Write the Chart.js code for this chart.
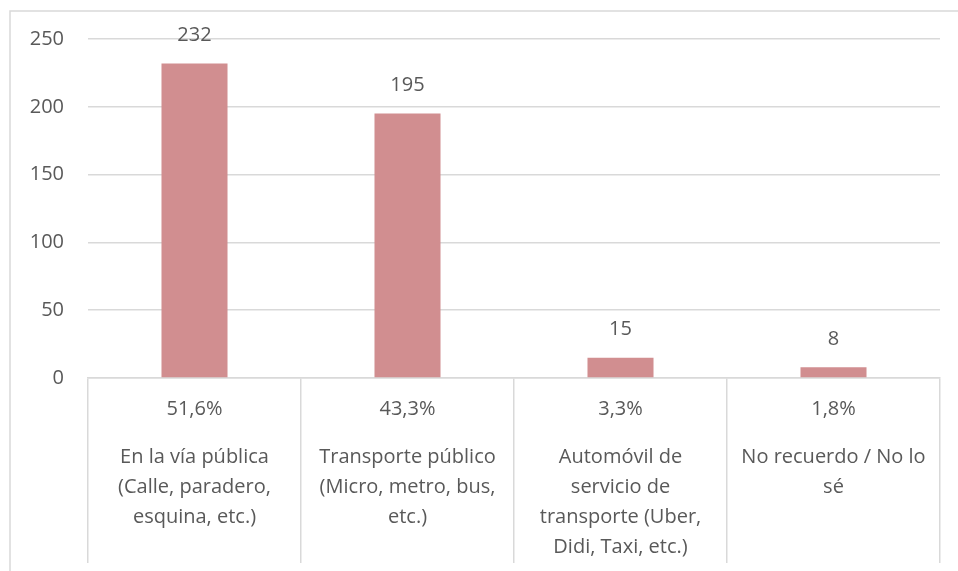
<!DOCTYPE html>
<html lang="es">
<head>
    <meta charset="UTF-8">
    <title>Lugar</title>
    <script src="https://cdn.jsdelivr.net/npm/chart.js"></script>
    <style>
        html, body { margin: 0; padding: 0; background: #fff; }
        #wrap { width: 958px; height: 571px; position: relative; }
    </style>
</head>
<body>
    <div id="wrap"><canvas id="chart"></canvas></div>

    <script>
        // Data
        const categories = [
            ['En la vía pública', '(Calle, paradero,', 'esquina, etc.)'],
            ['Transporte público', '(Micro, metro, bus,', 'etc.)'],
            ['Automóvil de', 'servicio de', 'transporte (Uber,', 'Didi, Taxi, etc.)'],
            ['No recuerdo / No lo', 'sé']
        ];
        const counts = [232, 195, 15, 8];
        const percentLabels = ['51,6%', '43,3%', '3,3%', '1,8%'];
        const yTicks = [0, 50, 100, 150, 200, 250];

        const TEXT = '#595959';
        const LINE = '#d9d9d9';
        const FONT = '"Open Sans", sans-serif';
        const FS = 20;

        // frame (top + left edge) and the labels under the axis
        const decorPlugin = {
            id: 'decor',
            beforeDraw(chart) {
                const ctx = chart.ctx;
                ctx.save();
                ctx.strokeStyle = LINE;
                ctx.lineWidth = 1.5;
                ctx.beginPath();
                ctx.moveTo(10, chart.height);
                ctx.lineTo(10, 11);
                ctx.lineTo(chart.width, 11);
                ctx.stroke();
                ctx.restore();
            },
            afterDraw(chart) {
                const ctx = chart.ctx;
                const x = chart.scales.x;
                const meta = chart.getDatasetMeta(0);
                ctx.save();
                ctx.fillStyle = TEXT;
                ctx.font = FS + 'px ' + FONT;
                ctx.textAlign = 'center';
                ctx.textBaseline = 'middle';
                const base = chart.chartArea.bottom;
                categories.forEach((lines, i) => {
                    const cx = x.getPixelForValue(i);
                    // value above the bar
                    ctx.fillText(String(counts[i]), cx, meta.data[i].y - 28);
                    // percentage and category text in the cell
                    ctx.fillText(percentLabels[i], cx, base + 31);
                    lines.forEach((ln, j) => {
                        ctx.fillText(ln, cx, base + 79 + j * 30);
                    });
                });
                ctx.restore();
            }
        };

        new Chart(document.getElementById('chart'), {
            type: 'bar',
            data: {
                labels: categories.map(c => c.join(' ')),
                datasets: [{
                    data: counts,
                    backgroundColor: '#d18e90',
                    barPercentage: 0.31,
                    categoryPercentage: 1.0
                }]
            },
            options: {
                responsive: true,
                maintainAspectRatio: false,
                animation: false,
                layout: { padding: { top: 39, right: 18, bottom: 8, left: 0 } },
                plugins: {
                    legend: { display: false },
                    tooltip: { enabled: false }
                },
                scales: {
                    x: {
                        grid: {
                            offset: true,
                            drawOnChartArea: false,
                            drawTicks: true,
                            tickLength: 185,
                            color: LINE,
                            lineWidth: 1.5
                        },
                        border: { display: true, color: LINE, width: 1.5 },
                        ticks: { display: false }
                    },
                    y: {
                        min: 0,
                        max: 250,
                        afterBuildTicks(axis) {
                            axis.ticks = yTicks.map(v => ({ value: v }));
                        },
                        afterFit(axis) { axis.width = 88; },
                        grid: { color: LINE, lineWidth: 1.5, drawTicks: false },
                        border: { display: false },
                        ticks: {
                            color: TEXT,
                            font: { family: FONT, size: FS },
                            padding: 24
                        }
                    }
                }
            },
            plugins: [decorPlugin]
        });
    </script>
</body>
</html>
